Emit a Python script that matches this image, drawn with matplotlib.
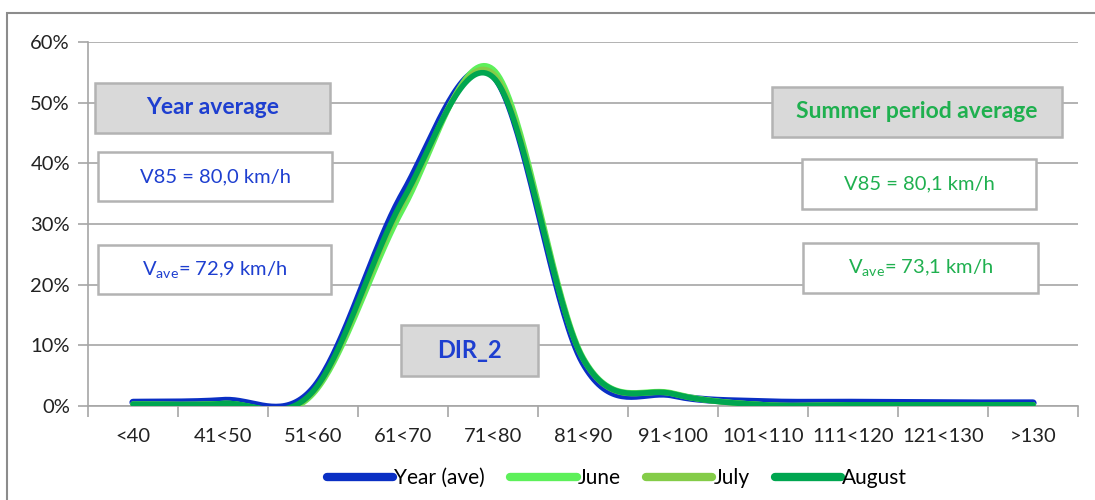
import numpy as np
import matplotlib.pyplot as plt
from matplotlib.patches import Rectangle

plt.rcParams['font.family'] = ['Lato', 'DejaVu Sans']
plt.rcParams['mathtext.default'] = 'regular'

categories = ['<40', '41<50', '51<60', '61<70', '71<80', '81<90', '91<100',
              '101<110', '111<120', '121<130', '>130']
year_ave = [0.6, 0.9, 2.8, 35.0, 54.5, 7.2, 1.8, 0.7, 0.6, 0.5, 0.5]
june = [0.3, 0.4, 2.0, 32.5, 55.5, 8.0, 2.1, 0.2, 0.2, 0.2, 0.2]
july = [0.3, 0.4, 2.2, 33.5, 54.8, 7.8, 2.0, 0.2, 0.2, 0.2, 0.2]
august = [0.3, 0.4, 2.4, 34.0, 54.2, 7.8, 2.0, 0.2, 0.2, 0.2, 0.2]

W, H = 1095, 500


def smooth(xs, ys, n=40):
    # Excel-style smoothed line (Catmull-Rom as cubic Bezier segments)
    p = np.column_stack([xs, ys]).astype(float)
    p = np.vstack([p[0], p, p[-1]])
    t = np.linspace(0, 1, n)[:, None]
    out = []
    for i in range(1, len(p) - 2):
        b0 = p[i]
        b3 = p[i + 1]
        b1 = b0 + (p[i + 1] - p[i - 1]) / 6
        b2 = b3 - (p[i + 2] - p[i]) / 6
        seg = ((1 - t) ** 3) * b0 + 3 * ((1 - t) ** 2) * t * b1 + 3 * (1 - t) * t ** 2 * b2 + t ** 3 * b3
        out.append(seg)
    out = np.vstack(out)
    return out[:, 0], out[:, 1]


def fbox(x0, y0, x1, y1):
    return (x0 / W, 1 - y1 / H, (x1 - x0) / W, (y1 - y0) / H)


fig = plt.figure(figsize=(W / 100, H / 100), dpi=100)
ax = fig.add_axes([88 / W, 1 - 406 / H, (1078 - 88) / W, (406 - 42) / H])

x = np.arange(len(categories))
series = [('Year (ave)', year_ave, '#0a2fc4', 5.2),
          ('June', june, '#5df05a', 4.0),
          ('July', july, '#84cc48', 4.0),
          ('August', august, '#00a650', 4.0)]
for name, vals, col, lw in series:
    sx, sy = smooth(x, np.array(vals) / 100)
    ax.plot(sx, sy, color=col, lw=lw, label=name, solid_capstyle='round', zorder=3)

ax.set_xlim(-0.5, len(categories) - 0.5)
ax.set_ylim(0, 0.6)
ax.set_yticks(np.arange(0, 0.61, 0.1))
ax.set_yticklabels(['%d%%' % v for v in range(0, 61, 10)])
ax.set_xticks(x)
ax.set_xticklabels(categories)
ax.set_xticks(np.arange(-0.5, len(categories), 1), minor=True)
ax.tick_params(axis='x', which='major', length=0, pad=16, labelsize=14.5, labelcolor='#222222')
ax.tick_params(axis='x', which='minor', length=8, color='#a6a6a6', width=1.2, direction='out')
ax.tick_params(axis='y', length=7, color='#a6a6a6', width=1.2, labelsize=14.5, labelcolor='#222222', pad=6)
ax.grid(axis='y', color='#a6a6a6', lw=1.2)
ax.set_axisbelow(True)
for s in ['top', 'right']:
    ax.spines[s].set_visible(False)
for s in ['left', 'bottom']:
    ax.spines[s].set_color('#a6a6a6')
    ax.spines[s].set_linewidth(1.2)

leg = fig.legend(loc='center', bbox_to_anchor=(617 / W, 1 - 478 / H), ncol=4, frameon=False,
                 fontsize=15, handlelength=3.2, handletextpad=0.05, columnspacing=1.2)
for line in leg.get_lines():
    line.set_linewidth(6)

# outer frame
fig.patches.append(Rectangle((7 / W, -0.05), 1.1, 1 - 13 / H + 0.05, transform=fig.transFigure,
                             fill=False, edgecolor='#8c8c8c', lw=1.5))

blue = '#1e3fd0'
green = '#1fb04f'
boxes = [((95, 83, 330, 133), '#d9d9d9', 'Year average', blue, 'bold', 16.5),
         ((98, 152, 332, 201), 'white', 'V85 = 80,0 km/h', blue, 'normal', 14.5),
         ((98, 245, 331, 294), 'white', 'V$_{ave}$= 72,9 km/h', blue, 'normal', 14.5),
         ((401, 325, 538, 376), '#d9d9d9', 'DIR_2', blue, 'bold', 17),
         ((772, 87, 1062, 137), '#d9d9d9', 'Summer period average', green, 'bold', 16.5),
         ((802, 159, 1036, 209), 'white', 'V85 = 80,1 km/h', green, 'normal', 14.5),
         ((803, 243, 1038, 293), 'white', 'V$_{ave}$= 73,1 km/h', green, 'normal', 14.5)]
for (x0, y0, x1, y1), fc, txt, tc, wt, fs in boxes:
    bx, by, bw, bh = fbox(x0, y0, x1, y1)
    fig.patches.append(Rectangle((bx, by), bw, bh, transform=fig.transFigure,
                                 facecolor=fc, edgecolor='#b3b3b3', lw=1.8, zorder=5))
    fig.text(bx + bw / 2, by + bh / 2, txt, color=tc, fontsize=fs, fontweight=wt,
             ha='center', va='center', zorder=6)

fig.savefig('out.png', dpi=100)
